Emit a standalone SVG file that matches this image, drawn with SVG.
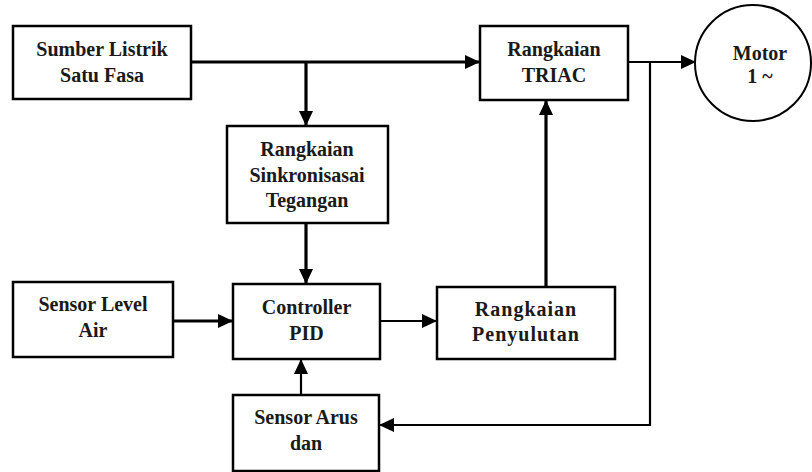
<svg xmlns="http://www.w3.org/2000/svg" width="812" height="472" viewBox="0 0 812 472">
<style>
.box{fill:#fff;stroke:#000;stroke-width:2.5}
.t{font-family:"Liberation Serif","Times New Roman",serif;font-weight:bold;font-size:20px;fill:#1a1a1a;text-anchor:middle}
.w{fill:none;stroke:#000;stroke-width:3.2}
.n{fill:none;stroke:#000;stroke-width:2.2}
</style>
<defs>
<marker id="a" markerUnits="userSpaceOnUse" markerWidth="15" markerHeight="15" refX="15" refY="7" orient="auto">
<path d="M0,0 L15,7 L0,14 z" fill="#000"/>
</marker>
</defs>
<rect width="812" height="472" fill="#fff"/>
<g id="connectors">
<path class="w" d="M191,62 H480" marker-end="url(#a)"/>
<path class="w" d="M306,62 V126" marker-end="url(#a)"/>
<path class="w" d="M306,223 V284" marker-end="url(#a)"/>
<path class="w" d="M173,321 H233" marker-end="url(#a)"/>
<path class="n" d="M380,321 H437" marker-end="url(#a)"/>
<path class="w" d="M546,287 V100" marker-end="url(#a)"/>
<path class="n" d="M628,62 H696" marker-end="url(#a)"/>
<path class="n" d="M650,62 V425 H379" marker-end="url(#a)"/>
<path class="n" d="M301,395 V359" marker-end="url(#a)"/>
</g>
<g id="sumber">
<rect class="box" x="13" y="26" width="178" height="73"/>
<text class="t" x="102" y="56">Sumber Listrik</text>
<text class="t" x="102" y="82">Satu Fasa</text>
</g>
<g id="triac">
<rect class="box" x="480" y="26" width="148" height="74"/>
<text class="t" x="554" y="56">Rangkaian</text>
<text class="t" x="554" y="82">TRIAC</text>
</g>
<g id="motor">
<circle cx="753" cy="63" r="58" fill="#fff" stroke="#000" stroke-width="2"/>
<text class="t" x="760" y="60">Motor</text>
<text class="t" x="760" y="83">1 ~</text>
</g>
<g id="sinkron">
<rect class="box" x="227" y="126" width="161" height="97"/>
<text class="t" x="307" y="156">Rangkaian</text>
<text class="t" x="307" y="181.5">Sinkronisasai</text>
<text class="t" x="307" y="207">Tegangan</text>
</g>
<g id="sensorlevel">
<rect class="box" x="13" y="282" width="160" height="75"/>
<text class="t" x="93" y="311">Sensor Level</text>
<text class="t" x="93" y="337">Air</text>
</g>
<g id="controller">
<rect class="box" x="233" y="284" width="147" height="75"/>
<text class="t" x="306.5" y="314">Controller</text>
<text class="t" x="306.5" y="340">PID</text>
</g>
<g id="penyulutan">
<rect class="box" x="437" y="287" width="178" height="72"/>
<text class="t" x="526" y="316" letter-spacing="1">Rangkaian</text>
<text class="t" x="526" y="341" letter-spacing="1">Penyulutan</text>
</g>
<g id="sensorarus">
<rect class="box" x="233" y="395" width="146" height="76"/>
<text class="t" x="306" y="424">Sensor Arus</text>
<text class="t" x="306" y="450">dan</text>
</g>
</svg>
